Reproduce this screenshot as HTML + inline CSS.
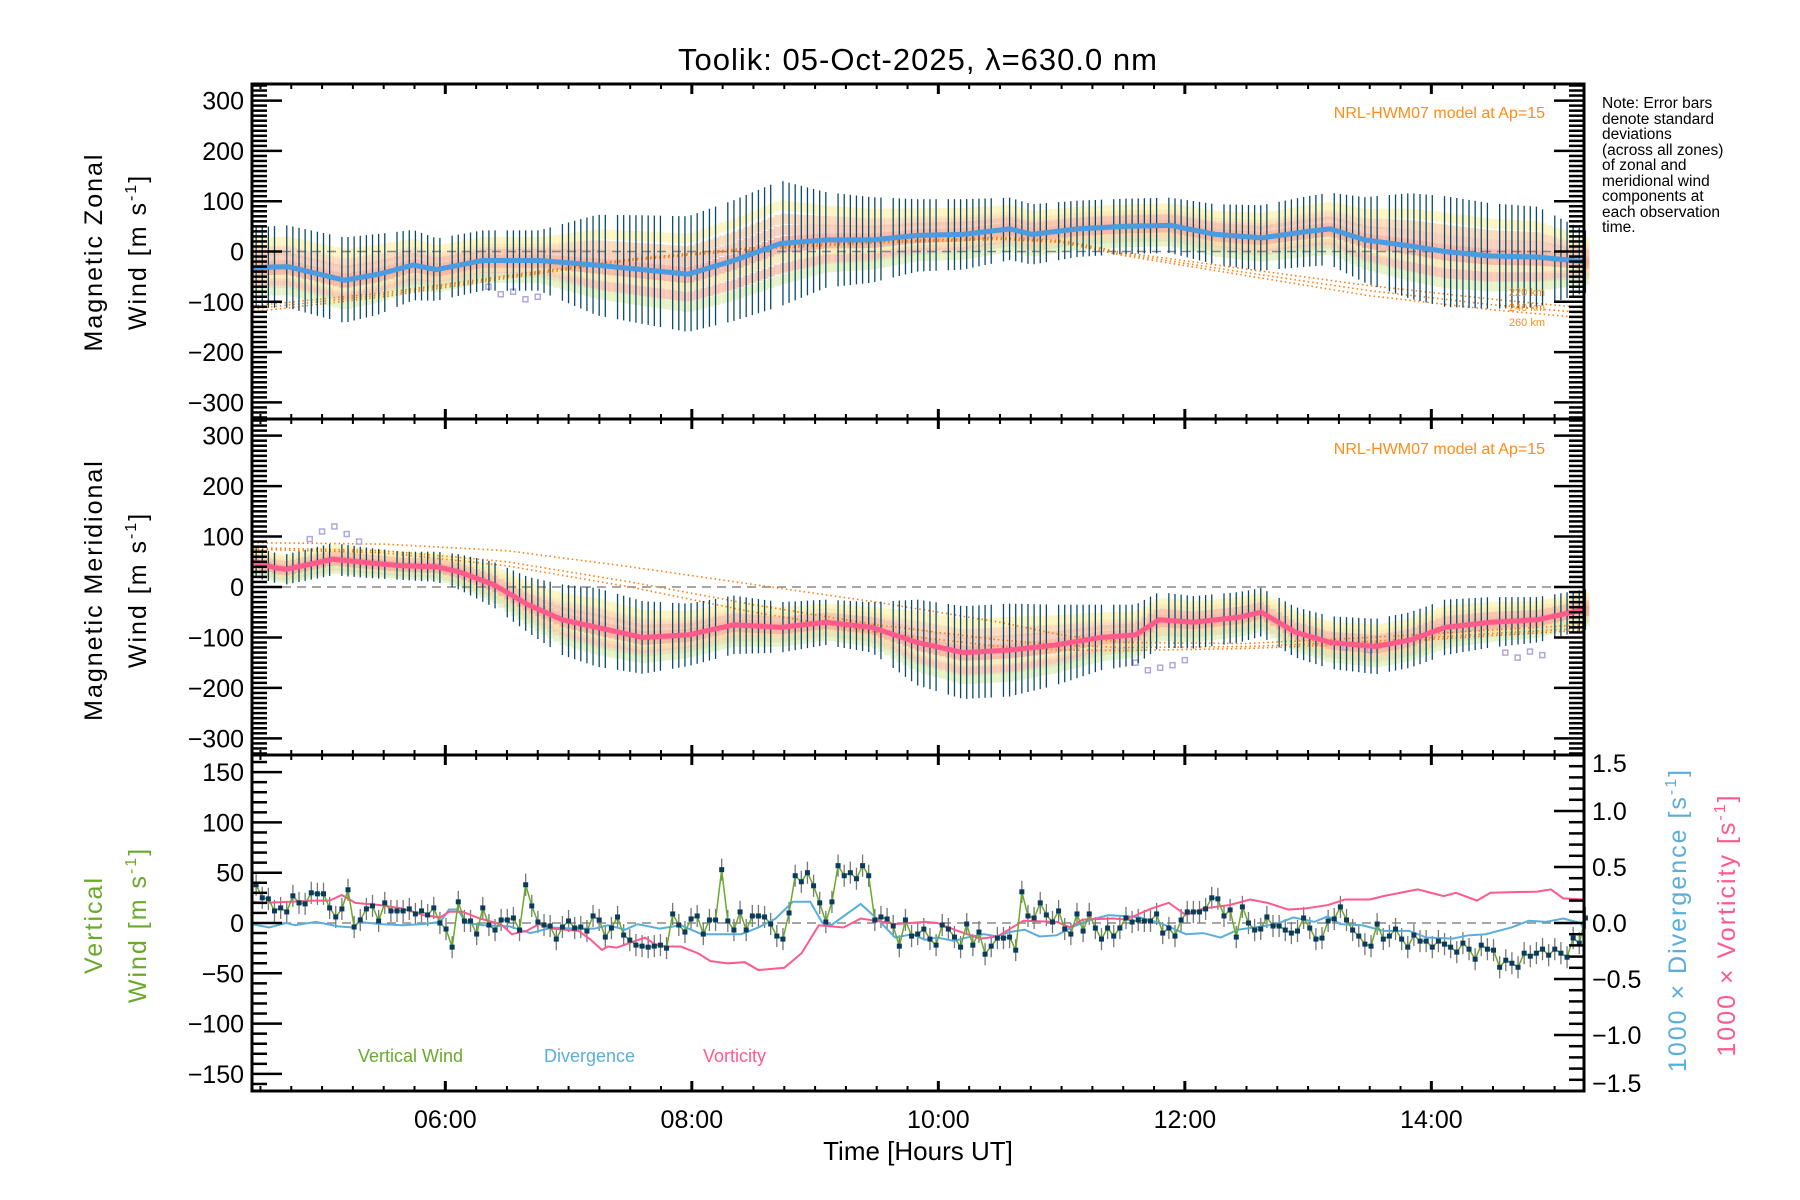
<!DOCTYPE html>
<html><head><meta charset="utf-8">
<style>
html,body{margin:0;padding:0;background:#fff;}
svg{display:block;font-family:"Liberation Sans",sans-serif;}
</style></head>
<body>
<svg id="chart" width="1800" height="1200" viewBox="0 0 1800 1200" xmlns="http://www.w3.org/2000/svg">
<rect width="1800" height="1200" fill="#fff"/>
<text x="918" y="70" font-size="31" text-anchor="middle" letter-spacing="1">Toolik: 05-Oct-2025, λ=630.0 nm</text>
<g id="p1"></g><g id="p2"></g><g id="p3"></g>
<text transform="translate(102,252) rotate(-90)" font-size="25" text-anchor="middle" letter-spacing="2">Magnetic Zonal</text>
<text transform="translate(146,252) rotate(-90)" font-size="25" text-anchor="middle" letter-spacing="2">Wind [m s<tspan dy="-10" font-size="16">-1</tspan><tspan dy="10">]</tspan></text>
<text transform="translate(102,590) rotate(-90)" font-size="25" text-anchor="middle" letter-spacing="2">Magnetic Meridional</text>
<text transform="translate(146,590) rotate(-90)" font-size="25" text-anchor="middle" letter-spacing="2">Wind [m s<tspan dy="-10" font-size="16">-1</tspan><tspan dy="10">]</tspan></text>
<text transform="translate(102,925) rotate(-90)" font-size="25" text-anchor="middle" fill="#6aaa2a" letter-spacing="2">Vertical</text>
<text transform="translate(146,925) rotate(-90)" font-size="25" text-anchor="middle" fill="#6aaa2a" letter-spacing="2">Wind [m s<tspan dy="-10" font-size="16">-1</tspan><tspan dy="10">]</tspan></text>
<text transform="translate(1686,920) rotate(-90)" font-size="25" text-anchor="middle" fill="#5aaedc" letter-spacing="2">1000 × Divergence [s<tspan dy="-10" font-size="16">-1</tspan><tspan dy="10">]</tspan></text>
<text transform="translate(1735,925) rotate(-90)" font-size="25" text-anchor="middle" fill="#ff5a8c" letter-spacing="2">1000 × Vorticity [s<tspan dy="-10" font-size="16">-1</tspan><tspan dy="10">]</tspan></text>
<text x="918" y="1160" font-size="26" text-anchor="middle">Time [Hours UT]</text>
<g font-size="15.5">
<text x="1602" y="108">Note: Error bars</text>
<text x="1602" y="124">denote standard</text>
<text x="1602" y="139">deviations</text>
<text x="1602" y="155">(across all zones)</text>
<text x="1602" y="170">of zonal and</text>
<text x="1602" y="186">meridional wind</text>
<text x="1602" y="201">components at</text>
<text x="1602" y="217">each observation</text>
<text x="1602" y="232">time.</text>
</g>
<text x="1545" y="118" font-size="16" fill="#ff8c1a" text-anchor="end">NRL-HWM07 model at Ap=15</text>
<text x="1545" y="454" font-size="16" fill="#ff8c1a" text-anchor="end">NRL-HWM07 model at Ap=15</text>
<text x="1545" y="296" font-size="11" fill="#ff8c1a" text-anchor="end">220 km</text>
<text x="1545" y="311" font-size="11" fill="#ff8c1a" text-anchor="end">240 km</text>
<text x="1545" y="326" font-size="11" fill="#ff8c1a" text-anchor="end">260 km</text>
<text x="358" y="1062" font-size="18" fill="#6aaa2a">Vertical Wind</text>
<text x="544" y="1062" font-size="18" fill="#5aaedc">Divergence</text>
<text x="703" y="1062" font-size="18" fill="#ff5a8c">Vorticity</text>
</svg>
<script>
// ---- data ----
const zonalT = [4.44,4.72,5.18,5.46,5.74,5.93,6.30,6.76,7.23,7.60,7.97,8.34,8.72,9.09,9.46,9.83,10.20,10.58,10.76,11.13,11.51,11.88,12.25,12.62,13.00,13.18,13.46,13.83,14.11,14.48,14.86,15.24];
const zonalMean = [-32,-30,-57,-45,-27,-36,-18,-18,-27,-36,-45,-18,16,23,23,32,34,45,34,45,50,52,34,27,40,45,23,11,0,-9,-11,-20];
const zonalSd = [80,82,85,80,70,62,60,60,100,108,115,120,125,95,85,72,70,62,60,56,55,55,60,65,70,72,85,105,110,105,100,62];
const merT = [4.44,4.62,4.71,5.09,5.37,5.65,5.93,6.11,6.39,6.67,6.95,7.23,7.60,7.97,8.34,8.72,9.09,9.46,9.83,10.20,10.58,10.95,11.32,11.60,11.79,12.07,12.44,12.62,12.90,13.18,13.55,13.83,14.11,14.48,14.86,15.24];
const merMean = [50,38,35,55,48,42,40,30,5,-35,-65,-80,-100,-95,-75,-80,-70,-80,-110,-130,-125,-115,-100,-95,-65,-70,-60,-50,-90,-110,-118,-105,-80,-70,-65,-45];
const merSd = [30,30,30,32,30,28,30,35,45,55,70,78,72,62,58,50,45,50,85,92,92,80,65,60,55,52,50,48,50,52,55,55,55,50,45,40];
const hwmT = [4.44,5.5,6.5,7.5,8.5,9.5,10.5,11.0,11.5,12.5,13.5,14.5,15.24];
const hwmZonal220 = [-108,-82,-48,-15,8,20,28,22,-2,-35,-68,-95,-112];
const hwmZonal240 = [-114,-86,-50,-16,6,19,26,20,-5,-42,-78,-106,-122];
const hwmZonal260 = [-120,-90,-53,-18,4,17,24,18,-8,-48,-88,-116,-132];
const hwmMer220 = [88,85,72,40,5,-30,-70,-95,-110,-112,-100,-85,-75];
const hwmMer240 = [78,72,50,10,-35,-75,-105,-115,-120,-118,-108,-92,-82];
const hwmMer260 = [75,68,42,0,-50,-90,-118,-125,-126,-122,-112,-96,-86];
const purpleT = [6.35,6.45,6.55,6.65,6.75,4.9,5.0,5.1,5.2,5.3,11.6,11.7,11.8,11.9,12.0,14.6,14.7,14.8,14.9,13.3,13.5];
const purpleZonal = [-70,-85,-80,-95,-90,null,null,null,null,null,null,null,null,null,null,null,null,null,null,null,null];
const purpleMer = [null,null,null,null,null,95,110,120,105,90,-150,-165,-160,-155,-145,-130,-140,-128,-135,-120,-125];
const vwStart = 4.465, vwEnd = 15.25;
const vertWind = [38,25,24,12,15,11,27,20,19,30,29,29,15,6,14,33,-4,3,14,17,2,20,12,12,12,14,9,12,8,15,0,-6,-24,21,2,2,-11,15,-2,-7,3,3,5,-7,38,17,1,-2,-3,-16,-4,2,-5,-4,-8,7,3,-14,-5,6,-12,-17,-22,-23,-24,-23,-22,-25,9,-2,-9,4,7,-11,3,3,53,2,-7,11,-7,7,7,6,-1,-13,-16,10,47,41,50,37,20,1,21,57,47,50,44,57,47,3,6,4,-3,-23,3,-13,-11,-6,-16,-22,-2,-6,-14,-24,-1,-22,-9,-31,-23,-15,-15,-14,-27,31,7,5,20,8,1,12,-6,-11,9,-8,9,-5,-16,-5,-13,-5,5,1,3,2,2,9,-10,-5,-13,3,11,11,11,14,25,24,7,13,-14,16,0,-7,-6,6,-3,-3,-7,-10,-8,5,-5,-16,-15,2,4,16,3,-7,-13,-21,-23,-1,-16,-13,-6,-16,-24,-12,-18,-18,-24,-18,-21,-24,-29,-20,-26,-36,-22,-26,-27,-44,-37,-40,-44,-30,-33,-30,-26,-32,-26,-30,-34,-15,-20,5];
const vortT = [4.43,4.53,4.74,4.92,5.06,5.16,5.27,5.47,5.65,5.82,5.96,6.03,6.14,6.28,6.45,6.54,6.66,6.76,6.87,7.08,7.18,7.27,7.32,7.39,7.49,7.62,7.70,7.79,7.91,8.05,8.15,8.29,8.43,8.54,8.75,8.89,9.03,9.23,9.37,9.55,9.65,9.89,9.99,10.13,10.34,10.48,10.69,10.96,11.07,11.17,11.42,11.52,11.73,11.87,12.01,12.15,12.36,12.53,12.67,12.84,12.98,13.16,13.30,13.50,13.61,13.89,14.10,14.20,14.37,14.48,14.86,14.97,15.07,15.24];
const vortVal = [0.19,0.18,0.19,0.20,0.20,0.25,0.18,0.16,0.13,0.07,0.05,0.10,0.10,0.04,-0.01,-0.10,-0.07,-0.01,-0.05,-0.07,-0.15,-0.24,-0.21,-0.22,-0.18,-0.13,-0.19,-0.21,-0.21,-0.27,-0.34,-0.36,-0.35,-0.42,-0.40,-0.27,-0.02,-0.04,0.04,0.01,-0.01,0.01,0,-0.06,-0.14,-0.12,0.02,0.01,-0.04,0.03,0.04,0.03,0.13,0.18,0.07,0.13,0.16,0.21,0.18,0.12,0.13,0.16,0.21,0.21,0.24,0.30,0.24,0.27,0.20,0.27,0.28,0.30,0.22,0.21];
const divT = [4.43,4.57,4.71,4.78,4.95,5.13,5.25,5.30,5.47,5.65,5.82,5.96,6.03,6.10,6.17,6.31,6.52,6.69,6.87,7.04,7.21,7.32,7.46,7.56,7.74,7.91,8.08,8.26,8.40,8.54,8.68,8.82,8.96,9.06,9.13,9.37,9.51,9.65,9.79,9.89,9.99,10.13,10.23,10.37,10.48,10.58,10.70,10.82,10.96,11.10,11.24,11.38,11.52,11.63,11.80,12.01,12.15,12.29,12.43,12.56,12.74,12.88,13.05,13.16,13.26,13.44,13.61,13.82,13.96,14.17,14.30,14.44,14.65,14.79,14.93,15.07,15.21,15.24];
const divVal = [-0.01,-0.04,0,-0.02,0.01,-0.03,-0.04,0.01,-0.01,-0.02,-0.01,0.01,0.12,0.12,0,-0.02,-0.03,-0.09,-0.04,-0.05,-0.05,-0.02,-0.06,-0.01,-0.05,-0.02,-0.10,-0.10,-0.10,-0.04,0.04,0.19,0.19,0,-0.02,0.17,0.03,-0.13,-0.10,-0.15,-0.13,-0.16,-0.13,-0.10,-0.12,-0.08,-0.06,-0.12,-0.11,-0.03,0.03,0.07,0.06,0.05,0,-0.10,-0.09,-0.13,-0.06,-0.04,-0.01,0.05,0.01,0.06,-0.01,-0.02,-0.07,-0.07,-0.13,-0.14,-0.11,-0.10,-0.04,0.02,0.01,0.04,0,-0.06];
const xTickHours = [6,8,10,12,14];
const xTickLabels = ["06:00","08:00","10:00","12:00","14:00"];
const windTicks = [300,200,100,0,-100,-200,-300];
const vertTicks = [150,100,50,0,-50,-100,-150];
const rightTicks = [1.5,1.0,0.5,0.0,-0.5,-1.0,-1.5];

// ---- geometry ----
const NS='http://www.w3.org/2000/svg';
const X0=252, X1=1584, T0=4.4315, T1=15.2385;
const xs = h => X0 + (h-T0)/(T1-T0)*(X1-X0);
const panels = {p1:{top:84,bot:419,min:-333,max:333},p2:{top:419,bot:755,min:-333,max:333},p3:{top:755,bot:1091,min:-167,max:167}};
const ysf = p => v => p.bot - (v-p.min)/(p.max-p.min)*(p.bot-p.top);
const yR = v => 923 - v*112;
function mk(parent, tag, attrs){const e=document.createElementNS(NS,tag);for(const k in attrs)e.setAttribute(k,attrs[k]);parent.appendChild(e);return e;}
function interp(T,V,t){if(t<=T[0])return V[0];for(let i=1;i<T.length;i++){if(t<=T[i]){const f=(t-T[i-1])/(T[i]-T[i-1]);return V[i-1]+f*(V[i]-V[i-1]);}}return V[V.length-1];}
const vwTimes = vertWind.map((v,i)=>vwStart+i*(vwEnd-vwStart)/(vertWind.length-1));
const barTimes = vwTimes.filter((t,i)=>i%9!==4);

const zoneCols=['#f6a090','#f8b8a0','#fbd0a8','#fde4a8','#fff2b0','#f7c0a8','#e0f0b8','#f4a898'];
const zoneOff=[0.05,-0.55,0.55,-0.3,0.85,0.3,-0.8,-0.1];

function windPanel(id, T, M, S, hwm, purple, lineCol, nameKey){
  const p=panels[id], y=ysf(p), g=document.getElementById(id);
  const zg=mk(g,'g',{});
  
  
  vwTimes.forEach(t=>{const m=interp(T,M,t), s=interp(T,S,t);
    zoneOff.forEach((o,k)=>{mk(zg,'rect',{x:xs(t)-3,y:y(m+s*0.72*o)-5,width:7,height:10,fill:zoneCols[k],opacity:0.7});});});
  const z=mk(g,'line',{x1:X0,x2:X1,y1:y(0),y2:y(0),stroke:'#888','stroke-width':1.5,'stroke-dasharray':'9,6'});
  
  
  hwm.forEach((arr,k)=>{const pl=mk(g,'polyline',{points:hwmT.map((t,i)=>xs(t)+','+y(arr[i])).join(' '),fill:'none',stroke:'#ff7f0e','stroke-width':1.6,'stroke-dasharray':'1.5,3'});
    
    });
  purple.forEach((v,i)=>{if(v===null)return;const r=mk(g,'rect',{x:xs(purpleT[i])-2.5,y:y(v)-2.5,width:5,height:5,fill:'none',stroke:'#b0a8dc','stroke-width':1.5});
    
    });
  const eg=mk(g,'g',{stroke:'#0a4a6a','stroke-width':1.3});
  
  
  barTimes.forEach(t=>{const m=interp(T,M,t), s=interp(T,S,t);mk(eg,'line',{x1:xs(t),x2:xs(t),y1:y(m+s),y2:y(m-s)});});
  const ml=mk(g,'polyline',{points:T.map((t,i)=>xs(t)+','+y(M[i])).join(' '),fill:'none',stroke:lineCol,'stroke-width':5,'stroke-linejoin':'round'});
  
  
}
windPanel('p1', zonalT, zonalMean, zonalSd, [hwmZonal220,hwmZonal240,hwmZonal260], purpleZonal, '#4a9be0','zonal');
windPanel('p2', merT, merMean, merSd, [hwmMer220,hwmMer240,hwmMer260], purpleMer, '#ff5a8c','meridional');

(function(){
  const p=panels.p3, y=ysf(p), g=document.getElementById('p3');
  const z=mk(g,'line',{x1:X0,x2:X1,y1:y(0),y2:y(0),stroke:'#888','stroke-width':1.5,'stroke-dasharray':'9,6'});
  
  
  const eg=mk(g,'g',{stroke:'#777','stroke-width':1.3});
  
  
  vertWind.forEach((v,i)=>{mk(eg,'line',{x1:xs(vwTimes[i]),x2:xs(vwTimes[i]),y1:y(v+11),y2:y(v-11)});});
  const dl=mk(g,'polyline',{points:divT.map((t,i)=>xs(t)+','+yR(divVal[i])).join(' '),fill:'none',stroke:'#5aaedc','stroke-width':2});
  
  
  const vl=mk(g,'polyline',{points:vortT.map((t,i)=>xs(t)+','+yR(vortVal[i])).join(' '),fill:'none',stroke:'#ff5a8c','stroke-width':2});
  
  
  const wl=mk(g,'polyline',{points:vertWind.map((v,i)=>xs(vwTimes[i])+','+y(v)).join(' '),fill:'none',stroke:'#6aaa2a','stroke-width':1.5});
  
  
  const pg=mk(g,'g',{fill:'#0a3a5c'});
  
  
  vertWind.forEach((v,i)=>{mk(pg,'rect',{x:xs(vwTimes[i])-2.5,y:y(v)-2.5,width:5,height:5});});
})();

const ax=mk(document.getElementById('chart'),'g',{stroke:'#000'});


function line(x1,y1,x2,y2,w){mk(ax,'line',{x1,y1,x2,y2,'stroke-width':w});}
function label(x,y,txt,anchor,name,size){const t=mk(document.getElementById('chart'),'text',{x,y,'font-size':size||25,'text-anchor':anchor});t.textContent=txt;
  
  }
['p1','p2','p3'].forEach(id=>{
  const p=panels[id], y=ysf(p);
  mk(ax,'rect',{x:X0,y:p.top,width:X1-X0,height:p.bot-p.top,fill:'none','stroke-width':3});
  for(let m=Math.ceil(T0*4);m<=T1*4;m++){const h=m/4, x=xs(h), maj=(m%8===0);const L=maj?10:5;
    line(x,p.top,x,p.top+L,maj?3:2); line(x,p.bot,x,p.bot-L,maj?3:2);}
  const step = 10, majStep = id==='p3'?50:100;
  for(let v=Math.ceil(p.min/step)*step; v<=p.max; v+=step){const yy=y(v), maj=(v%majStep===0);
    const L=maj?30:15; line(X0,yy,X0+L,yy,2.5); if(id!=='p3') line(X1,yy,X1-L,yy,2.5);}
});
for(let k=-15;k<=15;k++){const v=k/10, yy=yR(v), maj=(k%5===0); line(X1,yy,X1-(maj?30:15),yy,2.5);}
windTicks.forEach(v=>{label(244,ysf(panels.p1)(v)+9,v<0?'\u2212'+(-v):String(v),'end','zonal-y-tick-label'); label(244,ysf(panels.p2)(v)+9,v<0?'\u2212'+(-v):String(v),'end','meridional-y-tick-label');});
vertTicks.forEach(v=>{label(244,ysf(panels.p3)(v)+9,v<0?'\u2212'+(-v):String(v),'end','vertical-y-tick-label');});
rightTicks.forEach(v=>{const adj = v===1.5?8:(v===-1.5?-8:0);label(1592,yR(v)+9+adj,(v<0?'\u2212':'')+Math.abs(v).toFixed(1),'start','right-y-tick-label');});
xTickHours.forEach((h,i)=>{label(xs(h),1128,xTickLabels[i],'middle','x-tick-label');});
</script>
</body></html>
